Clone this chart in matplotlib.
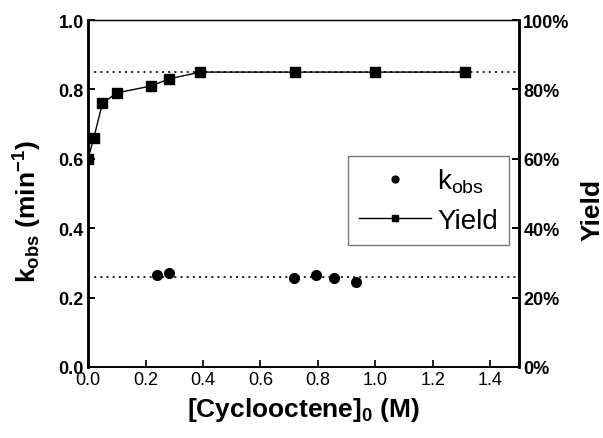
import matplotlib.pyplot as plt
from matplotlib.ticker import FuncFormatter

plt.rcParams['font.family'] = ['Liberation Sans', 'DejaVu Sans']
plt.rcParams['mathtext.default'] = 'regular'

# rate constants vs starting cyclooctene concentration
conc_k = [0.24, 0.283, 0.716, 0.793, 0.857, 0.934]
k_obs = [0.265, 0.272, 0.257, 0.266, 0.257, 0.246]
k_avg = 0.26

# product yield (%) vs starting cyclooctene concentration
conc_y = [0.0, 0.02, 0.05, 0.10, 0.22, 0.28, 0.39, 0.72, 1.00, 1.31]
yield_pct = [60, 66, 76, 79, 81, 83, 85, 85, 85, 85]
yield_max = 85

x_ticks = [0.0, 0.2, 0.4, 0.6, 0.8, 1.0, 1.2, 1.4]
k_ticks = [0.0, 0.2, 0.4, 0.6, 0.8, 1.0]
y_ticks = [0, 20, 40, 60, 80, 100]

fig = plt.figure(figsize=(6.03, 4.39), dpi=100)
ax = fig.add_axes([0.146, 0.162, 0.715, 0.790])
ax2 = ax.twinx()

ax.plot(conc_k, k_obs, 'o', color='black', markersize=7, label=r'k$_{obs}$')
ax.axhline(k_avg, color='black', linestyle=(0, (1.2, 2.5)), linewidth=1.2)

ax2.plot(conc_y, yield_pct, '-s', color='black', markersize=7, linewidth=1.0, label='Yield')
ax2.axhline(yield_max, color='black', linestyle=(0, (1.2, 2.5)), linewidth=1.2)

ax.set_xlim(0, 1.5)
ax.set_ylim(0, 1.0)
ax2.set_ylim(0, 100)
ax.set_xticks(x_ticks)
ax.set_xticklabels([f'{t:.1f}' for t in x_ticks])
ax.set_yticks(k_ticks)
ax.set_yticklabels([f'{t:.1f}' for t in k_ticks], fontweight='bold')
ax2.set_yticks(y_ticks)
ax2.yaxis.set_major_formatter(FuncFormatter(lambda v, p: f'{v:.0f}%'))
for lab in ax2.get_yticklabels():
    lab.set_fontweight('bold')

ax.tick_params(axis='x', direction='in', length=5, width=1.2, labelsize=13, pad=3, top=False)
ax.tick_params(axis='y', direction='in', length=5, width=1.4, labelsize=13, pad=3)
ax2.tick_params(axis='y', direction='in', length=5, width=1.4, labelsize=13, pad=3)

for a in (ax, ax2):
    a.spines['left'].set_linewidth(1.8)
    a.spines['right'].set_linewidth(1.8)
    a.spines['bottom'].set_linewidth(1.2)
    a.spines['top'].set_linewidth(0.9)

ax.set_xlabel(r'[Cyclooctene]$_{0}$ (M)', fontsize=19, fontweight='bold', labelpad=5)
ax.set_ylabel(r'k$_{obs}$ (min$^{-1}$)', fontsize=19, fontweight='bold')
ax.yaxis.set_label_coords(-0.102, 0.45)
ax2.set_ylabel('Yield', fontsize=19, fontweight='bold', rotation=90)
ax2.yaxis.set_label_coords(1.142, 0.455)

h1, l1 = ax.get_legend_handles_labels()
h2, l2 = ax2.get_legend_handles_labels()
leg = ax2.legend(h1 + h2, l1 + l2, loc='upper left', bbox_to_anchor=(0.603, 0.609),
                 fontsize=20, markerscale=0.7, handlelength=2.6, handletextpad=0.2,
                 borderpad=0.4, labelspacing=0.45, borderaxespad=0, fancybox=False,
                 frameon=True)
leg.get_frame().set_edgecolor('#555555')
leg.get_frame().set_linewidth(1.0)

fig.savefig('out.png', dpi=100)
